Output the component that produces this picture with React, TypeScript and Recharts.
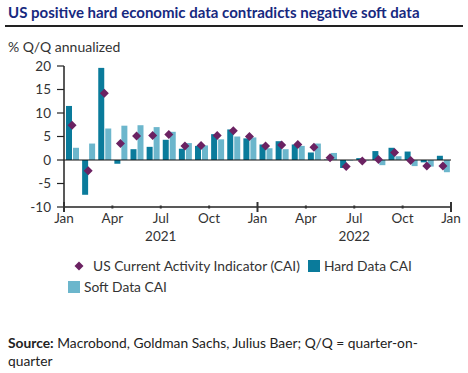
import { ComposedChart, Bar, Line, XAxis, YAxis, ReferenceLine } from 'recharts';

// months Jan 2021 .. Dec 2022
const months = [
  'Jan 21', 'Feb 21', 'Mar 21', 'Apr 21', 'May 21', 'Jun 21', 'Jul 21', 'Aug 21', 'Sep 21', 'Oct 21', 'Nov 21', 'Dec 21',
  'Jan 22', 'Feb 22', 'Mar 22', 'Apr 22', 'May 22', 'Jun 22', 'Jul 22', 'Aug 22', 'Sep 22', 'Oct 22', 'Nov 22', 'Dec 22',
];
const hardData = [11.5, -7.4, 19.6, -0.8, 2.3, 2.8, 4.3, 2.4, 3.0, 5.5, 6.5, 4.6, 3.3, 4.0, 3.3, 1.6, 0.1, -1.7, 0.4, 1.9, 2.6, 1.8, -0.5, 0.9];
const softData = [2.6, 3.5, 6.7, 7.3, 7.4, 7.0, 6.0, 3.6, 3.1, 4.4, 5.0, 4.8, 2.5, 2.3, 3.0, 3.5, 1.5, -0.1, -0.1, -1.1, 0.8, -1.3, -1.4, -2.6];
const caiData = [7.4, -2.3, 14.2, 3.5, 5.1, 5.2, 5.4, 3.0, 3.1, 5.2, 6.2, 5.0, 3.0, 3.2, 3.3, 2.7, 0.5, -1.4, -0.2, 0.1, 1.6, -0.1, -1.3, -1.3];

const xTicks = [0, 3, 6, 9, 12, 15, 18, 21, 24];
const tickLabels = ['Jan', 'Apr', 'Jul', 'Oct', 'Jan', 'Apr', 'Jul', 'Oct', 'Jan'];
const yearLabels = ['', '', '2021', '', '', '', '2022', '', ''];
const yTicks = [-10, -5, 0, 5, 10, 15, 20];

const HARD = '#0a7b9b';
const SOFT = '#6cb6cc';
const CAI = '#6b2262';
const FONT = 'Lato, "Open Sans", sans-serif';

const data = months.map((m, i) => ({
  name: m,
  x: i + 0.5,
  hard: hardData[i],
  soft: softData[i],
  cai: caiData[i],
}));

function XTick({ x, y, payload, index }: any) {
  const major = payload.value % 12 === 0;
  return (
    <g>
      {major ? (
        <line x1={x} x2={x} y1={y - 5} y2={y + 5} stroke="#333" strokeWidth={2} />
      ) : (
        <rect x={x - 1} y={y - 1.5} width={2} height={3} fill="#333" />
      )}
      <text x={x} y={y + 16} textAnchor="middle" fontSize={13.5} fill="#333" fontFamily={FONT}>
        {tickLabels[index]}
      </text>
      {yearLabels[index] && (
        <text x={x} y={y + 34} textAnchor="middle" fontSize={13.5} fill="#333" fontFamily={FONT}>
          {yearLabels[index]}
        </text>
      )}
    </g>
  );
}

function Diamond({ cx, cy }: any) {
  if (cx == null || cy == null) return null;
  const r = 4.5;
  return <polygon points={`${cx},${cy - r} ${cx + r},${cy} ${cx},${cy + r} ${cx - r},${cy}`} fill={CAI} />;
}

export default function App() {
  return (
    <div style={{ position: 'absolute', left: 0, top: 0, width: 468, height: 373, background: '#fff', fontFamily: FONT, color: '#333' }}>
      <div style={{ position: 'absolute', left: 8, top: 3, fontSize: 15, fontWeight: 700, color: '#17297f', whiteSpace: 'nowrap' }}>
        US positive hard economic data contradicts negative soft data
      </div>
      <div style={{ position: 'absolute', left: 5, top: 25, width: 458, height: 1.5, background: '#222' }} />
      <div style={{ position: 'absolute', left: 8, top: 38, fontSize: 14 }}>% Q/Q annualized</div>

      <div style={{ position: 'absolute', left: 0, top: 0 }}>
        <ComposedChart width={468} height={260} data={data} margin={{ top: 66, right: 17, bottom: 13, left: 8 }} barSize={6} barGap={1}>
          <XAxis
            dataKey="x"
            type="number"
            domain={[0, 24]}
            ticks={xTicks}
            interval={0}
            tickSize={0}
            tickMargin={0}
            tickLine={false}
            axisLine={{ stroke: '#222', strokeWidth: 1.5 }}
            tick={<XTick />}
            height={40}
          />
          <YAxis
            type="number"
            domain={[-10, 20]}
            ticks={yTicks}
            interval={0}
            width={56}
            tickSize={7}
            tickMargin={6}
            axisLine={{ stroke: '#222', strokeWidth: 1.5 }}
            tickLine={{ stroke: '#222', strokeWidth: 1.2 }}
            tick={{ fontSize: 13.5, fill: '#333', fontFamily: FONT }}
          />
          <Bar dataKey="hard" fill={HARD} isAnimationActive={false} />
          <Bar dataKey="soft" fill={SOFT} isAnimationActive={false} />
          <ReferenceLine y={0} stroke="#111" strokeWidth={1.2} />
          <Line dataKey="cai" stroke="none" dot={<Diamond />} activeDot={false} isAnimationActive={false} />
        </ComposedChart>
      </div>

      <div style={{ position: 'absolute', left: 74, top: 257, fontSize: 13.8, display: 'flex', alignItems: 'center', whiteSpace: 'nowrap' }}>
        <svg width={10} height={10} style={{ marginRight: 9 }}>
          <polygon points="5,0.5 9.5,5 5,9.5 0.5,5" fill={CAI} />
        </svg>
        <span>US Current Activity Indicator (CAI)</span>
        <span style={{ display: 'inline-block', width: 12, height: 12, background: HARD, marginLeft: 8, marginRight: 4 }} />
        <span>Hard Data CAI</span>
      </div>
      <div style={{ position: 'absolute', left: 68, top: 278, fontSize: 13.8, display: 'flex', alignItems: 'center', whiteSpace: 'nowrap' }}>
        <span style={{ display: 'inline-block', width: 12, height: 12, background: SOFT, marginRight: 4 }} />
        <span>Soft Data CAI</span>
      </div>

      <div style={{ position: 'absolute', left: 8, top: 334, fontSize: 13.8, lineHeight: '18px', color: '#222' }}>
        <b>Source:</b> Macrobond, Goldman Sachs, Julius Baer; Q/Q = quarter-on-
        <br />
        quarter
      </div>
    </div>
  );
}
